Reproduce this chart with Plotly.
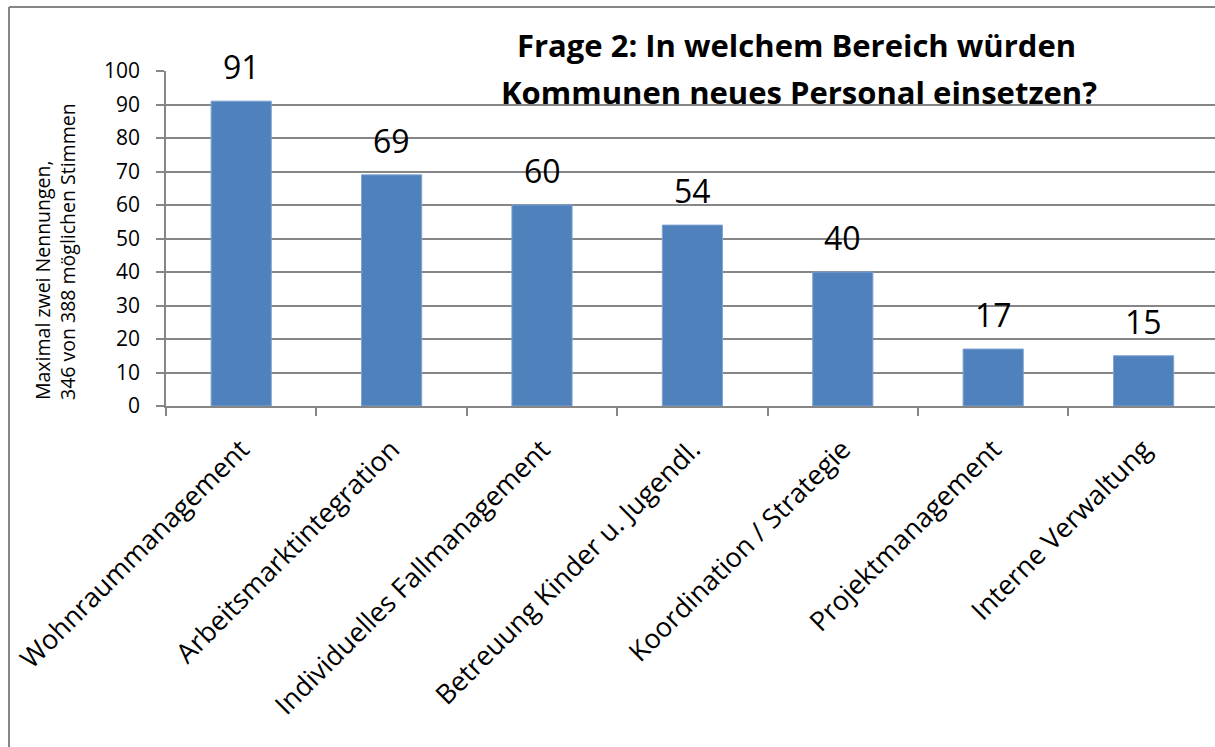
import plotly.graph_objects as go

categories = ["Wohnraummanagement", "Arbeitsmarktintegration", "Individuelles Fallmanagement",
              "Betreuung Kinder u. Jugendl.", "Koordination / Strategie", "Projektmanagement",
              "Interne Verwaltung"]
values = [91, 69, 60, 54, 40, 17, 15]
y_ticks = [0, 10, 20, 30, 40, 50, 60, 70, 80, 90, 100]
title_lines = ["Frage 2: In welchem Bereich würden", "Kommunen neues Personal einsetzen?"]
y_title = "Maximal zwei Nennungen,<br>346 von 388 möglichen Stimmen"

W, H = 1215, 747
L, R, T = 166, 0, 71
B = H - 406
pw = W - L - R
ph = H - T - B
cat_px = 150.4
x_span = pw / cat_px

def px_x(px):
    return (px - L) / pw

def px_y(py):
    return (H - B - py) / ph

FONT = "Open Sans"
GRID = "#868686"

fig = go.Figure()
fig.add_trace(go.Bar(x=categories, y=values, width=0.4,
                     marker=dict(color="#4F81BD", line=dict(color="#7fa3d3", width=1))))

annotations = []
for c, v in zip(categories, values):
    annotations.append(dict(x=c, y=v, xref="x", yref="y", text=str(v), showarrow=False,
                            yanchor="bottom", yshift=11,
                            font=dict(family=FONT, size=32, color="black")))

annotations.append(dict(x=px_x(796), y=px_y(45), xref="paper", yref="paper", text="<b>%s</b>" % title_lines[0],
                        showarrow=False, xanchor="center", yanchor="middle",
                        font=dict(family=FONT, size=31, color="black")))
annotations.append(dict(x=px_x(799), y=px_y(92), xref="paper", yref="paper", text="<b>%s</b>" % title_lines[1],
                        showarrow=False, xanchor="center", yanchor="middle",
                        font=dict(family=FONT, size=31, color="black")))
annotations.append(dict(x=px_x(55), y=px_y(252), xref="paper", yref="paper", text=y_title,
                        showarrow=False, xanchor="center", yanchor="middle", textangle=-90, align="left",
                        font=dict(family=FONT, size=19.5, color="black")))

shapes = [
    dict(type="line", xref="paper", yref="paper",
         x0=px_x(9), x1=px_x(1240), y0=px_y(7), y1=px_y(7),
         line=dict(color=GRID, width=2), layer="below"),
    dict(type="line", xref="paper", yref="paper",
         x0=px_x(9), x1=px_x(9), y0=px_y(7), y1=px_y(770),
         line=dict(color=GRID, width=2), layer="below"),
]

fig.update_layout(
    width=W, height=H,
    margin=dict(l=L, r=R, t=T, b=B, autoexpand=False),
    paper_bgcolor="white", plot_bgcolor="white",
    showlegend=False,
    annotations=annotations,
    shapes=shapes,
)
fig.update_xaxes(type="category", range=[-0.5, -0.5 + x_span], tickangle=-45,
                 tickson="boundaries", ticks="outside", ticklen=8, tickcolor=GRID, tickwidth=1.5,
                 ticklabelstandoff=15,
                 showline=True, linecolor=GRID, linewidth=1.5, showgrid=False,
                 tickfont=dict(family=FONT, size=27, color="black"))
fig.update_yaxes(range=[0, 100], tickvals=y_ticks, ticks="outside", ticklen=8, tickcolor=GRID, tickwidth=1.5,
                 ticklabelstandoff=12,
                 showline=True, linecolor=GRID, linewidth=1.5,
                 showgrid=True, gridcolor=GRID, gridwidth=1.5, zeroline=False,
                 tickfont=dict(family=FONT, size=21, color="black"))

fig.write_html("out.html",
               config={"displayModeBar": False},
               post_script="document.body.style.margin='0';document.body.style.overflow='hidden';"
                           "document.documentElement.style.overflow='hidden';")
